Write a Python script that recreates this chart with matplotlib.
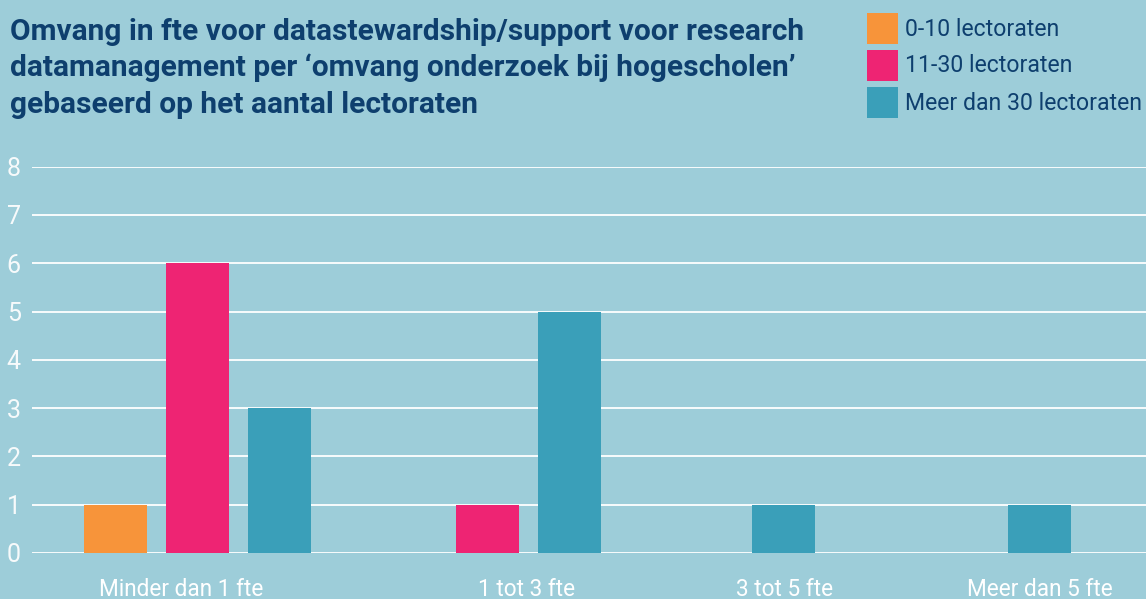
import matplotlib
matplotlib.use("Agg")
import matplotlib.pyplot as plt
from matplotlib.patches import Rectangle

# data
categories = ["Minder dan 1 fte", "1 tot 3 fte", "3 tot 5 fte", "Meer dan 5 fte"]
series_names = ["0-10 lectoraten", "11-30 lectoraten", "Meer dan 30 lectoraten"]
small = [1, 0, 0, 0]      # 0-10 lectoraten
medium = [6, 1, 0, 0]     # 11-30 lectoraten
large = [3, 5, 1, 1]      # meer dan 30 lectoraten
y_ticks = [0, 1, 2, 3, 4, 5, 6, 7, 8]

title_lines = ["Omvang in fte voor datastewardship/support voor research",
               "datamanagement per \u2018omvang onderzoek bij hogescholen\u2019",
               "gebaseerd op het aantal lectoraten"]

# layout (pixel units, figure is 1146 x 599)
W, H = 1146, 599
bg = "#9dcdd9"
colors = ["#f7943a", "#ee2473", "#3a9fb9"]
navy = "#0e3f6e"
group_centers = [197, 528, 783, 1039]
label_centers = [181, 527, 785, 1040]
bar_w = 63
step = 82

fig = plt.figure(figsize=(W / 100, H / 100), dpi=100, facecolor=bg)
ax = fig.add_axes([32 / W, 1 - 553 / H, (W - 32) / W, (553 - 166.7) / H])
ax.set_facecolor(bg)
ax.set_xlim(32, W)
ax.set_ylim(0, 8)
for s in ax.spines.values():
    s.set_visible(False)
ax.set_xticks([])
ax.set_yticks(y_ticks)
ax.set_yticklabels([str(t) for t in y_ticks], fontsize=18, color="#f7fafb",
                   family=["Roboto", "DejaVu Sans"], fontweight="normal")
ax.tick_params(axis="y", length=0, pad=8)
ax.yaxis.grid(True, color="white", linewidth=1.3, zorder=0)
ax.set_axisbelow(True)

# bars: zero values are skipped and the remaining bars are centred in the group
series = [small, medium, large]
for g, c in enumerate(group_centers):
    present = [k for k in range(len(series)) if series[k][g] > 0]
    n = len(present)
    for i, k in enumerate(present):
        x = c + (i - (n - 1) / 2) * step
        ax.bar(x, series[k][g], width=bar_w, color=colors[k], zorder=3)

# category labels sit at the bottom edge of the figure
for lab, xc in zip(categories, label_centers):
    x_disp = ax.transData.transform((xc, 0))[0]
    fig.text(x_disp / W, 1 - 596 / H, lab, ha="center", va="baseline",
             fontsize=16.3, color="white", family=["Roboto", "DejaVu Sans"])

# title
for i, line in enumerate(title_lines):
    fig.text(10 / W, 1 - (40 + 36.5 * i) / H, line, ha="left", va="baseline",
             fontsize=21.5, fontweight="bold", color=navy,
             family=["Roboto", "DejaVu Sans"])

# legend
sq_tops = [13, 50, 87]
for name, col, top in zip(series_names, colors, sq_tops):
    fig.patches.append(Rectangle((867 / W, 1 - (top + 31) / H), 31 / W, 31 / H,
                                 transform=fig.transFigure, facecolor=col,
                                 edgecolor="none"))
    fig.text(905 / W, 1 - (top + 16) / H, name, ha="left", va="center",
             fontsize=16.6, color=navy, family=["Roboto", "DejaVu Sans"])

fig.savefig("out.png", dpi=100, facecolor=bg)
